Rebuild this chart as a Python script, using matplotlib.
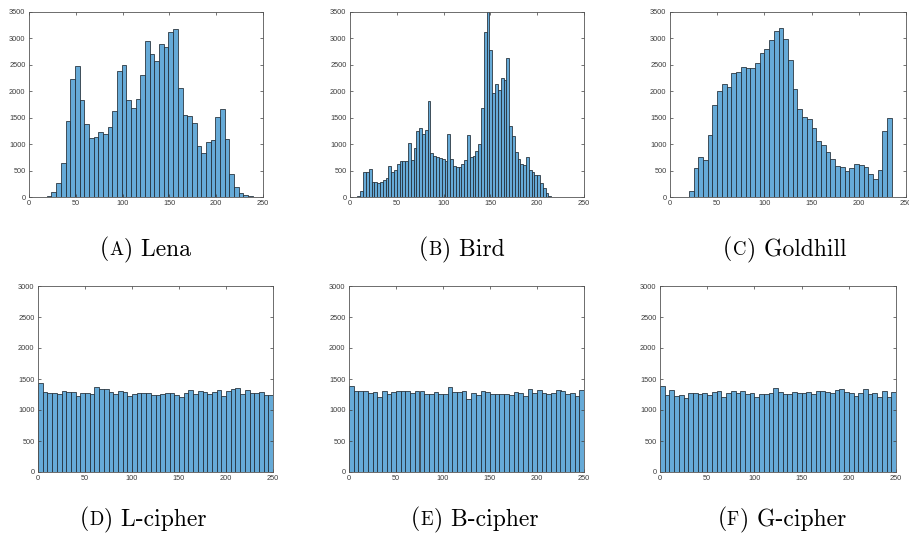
import numpy as np
import matplotlib
matplotlib.use('Agg')
import matplotlib.pyplot as plt

# histogram counts (bins of equal width)
lena_start, lena_width = 14, 5
lena_counts = [3, 10, 100, 270, 640, 1430, 2240, 2480, 1840, 1390, 1120, 1140,
               1230, 1200, 1330, 1630, 2380, 2500, 1840, 1690, 1860, 2310, 2950,
               2710, 2580, 2890, 2830, 3130, 3170, 2070, 1560, 1540, 1400, 970,
               840, 1050, 1080, 1520, 1670, 1100, 440, 180, 80, 30, 10]

bird_start, bird_width = 8, 3
bird_counts = [15, 115, 480, 470, 535, 290, 290, 260, 290, 325, 355, 585, 470,
               520, 615, 690, 675, 675, 1025, 700, 930, 1250, 1300, 1200, 1270,
               1815, 840, 780, 760, 740, 725, 690, 1195, 710, 580, 565, 565, 615,
               695, 1170, 758, 770, 872, 998, 1680, 3120, 3620, 2780, 1970, 2135,
               2028, 2250, 2210, 2630, 1340, 1150, 853, 720, 632, 600, 758, 512,
               474, 423, 411, 265, 177, 82, 20]

goldhill_start, goldhill_width = 20, 5
goldhill_counts = [120, 543, 758, 695, 1181, 1744, 2003, 2136, 2078, 2344, 2363,
                   2458, 2439, 2439, 2533, 2723, 2799, 2970, 3135, 3190, 2990,
                   2590, 2034, 1674, 1516, 1478, 1314, 1068, 979, 859, 714, 581,
                   562, 486, 543, 619, 606, 575, 436, 335, 505, 1245, 1491]

cipher_start, cipher_width = 0, 5
lcipher_counts = [1430, 1296, 1269, 1274, 1253, 1301, 1285, 1285, 1226, 1269,
                  1269, 1258, 1366, 1333, 1333, 1285, 1253, 1301, 1285, 1231,
                  1253, 1269, 1269, 1280, 1237, 1237, 1258, 1280, 1269, 1237,
                  1204, 1269, 1317, 1253, 1312, 1285, 1253, 1296, 1317, 1220,
                  1301, 1333, 1360, 1253, 1317, 1269, 1269, 1296, 1242, 1242]
bcipher_counts = [1387, 1301, 1301, 1312, 1269, 1285, 1215, 1301, 1258, 1285,
                  1312, 1301, 1301, 1280, 1312, 1300, 1258, 1260, 1285, 1263,
                  1253, 1366, 1285, 1285, 1312, 1172, 1274, 1242, 1301, 1285,
                  1258, 1263, 1263, 1263, 1242, 1296, 1269, 1226, 1333, 1274,
                  1323, 1269, 1258, 1269, 1328, 1301, 1258, 1274, 1220, 1323]
gcipher_counts = [1384, 1249, 1330, 1228, 1249, 1201, 1282, 1271, 1265, 1282,
                  1249, 1298, 1314, 1217, 1282, 1314, 1282, 1314, 1260, 1282,
                  1206, 1265, 1255, 1282, 1357, 1298, 1265, 1260, 1298, 1282,
                  1271, 1298, 1265, 1314, 1309, 1298, 1271, 1319, 1335, 1298,
                  1282, 1222, 1282, 1335, 1255, 1276, 1206, 1314, 1206, 1292]

letters = ['A', 'B', 'C', 'D', 'E', 'F']
names = ['Lena', 'Bird', 'Goldhill', 'L-cipher', 'B-cipher', 'G-cipher']

W, H = 909, 540
fig = plt.figure(figsize=(W / 100, H / 100), dpi=100)

face = (0.4, 0.668, 0.845)
edge = '#1f2a33'
gray = '#3a3a3a'
cm = ['cmr10', 'DejaVu Serif']


def panel(box, start, width, counts, ymax):
    l, r, t, b = box
    ax = fig.add_axes([l / W, (H - b) / H, (r - l) / W, (b - t) / H])
    edges = start + width * np.arange(len(counts) + 1)
    ax.bar(edges[:-1], counts, width=width, align='edge', color=face,
           edgecolor=edge, linewidth=0.55)
    ax.set_xlim(0, 250)
    ax.set_ylim(0, ymax)
    ax.set_xticks(np.arange(0, 251, 50))
    ax.set_yticks(np.arange(0, ymax + 1, 500))
    ax.tick_params(direction='in', top=True, right=True, length=2.5,
                   width=0.5, color=gray, labelsize=5.3, labelcolor='#3c3c3c',
                   pad=2.5)
    for lab in ax.get_xticklabels() + ax.get_yticklabels():
        lab.set_family('Liberation Sans')
    for s in ax.spines.values():
        s.set_color('#555555')
        s.set_linewidth(0.6)
    return ax


panel((29, 263, 12, 197), lena_start, lena_width, lena_counts, 3500)
panel((350, 584, 12, 197), bird_start, bird_width, bird_counts, 3500)
panel((670, 906, 12, 197), goldhill_start, goldhill_width, goldhill_counts, 3500)
panel((38, 273, 286, 472), cipher_start, cipher_width, lcipher_counts, 3000)
panel((349, 584, 286, 472), cipher_start, cipher_width, bcipher_counts, 3000)
panel((660, 896, 286, 472), cipher_start, cipher_width, gcipher_counts, 3000)

# captions: "(" + small-cap letter + ") name", centred under each panel
centres = [(145, 255), (461, 255), (784, 255), (143, 525), (474, 525), (781, 525)]
pieces = []
for (xc, yb), let, name in zip(centres, letters, names):
    y = (H - yb) / H
    t1 = fig.text(0, y, '(', fontsize=17, family=cm, va='baseline')
    t2 = fig.text(0, y, let, fontsize=13.5, family=cm, va='baseline')
    t3 = fig.text(0, y, ') ' + name, fontsize=17, family=cm, va='baseline')
    pieces.append((xc, t1, t2, t3))

renderer = fig.canvas.get_renderer()
for xc, t1, t2, t3 in pieces:
    w1 = t1.get_window_extent(renderer).width
    w2 = t2.get_window_extent(renderer).width
    w3 = t3.get_window_extent(renderer).width
    x0 = xc - (w1 + w2 + w3) / 2
    t1.set_x(x0 / W)
    t2.set_x((x0 + w1 + 0.5) / W)
    t3.set_x((x0 + w1 + w2 + 1) / W)

fig.savefig('out.png', dpi=100)
